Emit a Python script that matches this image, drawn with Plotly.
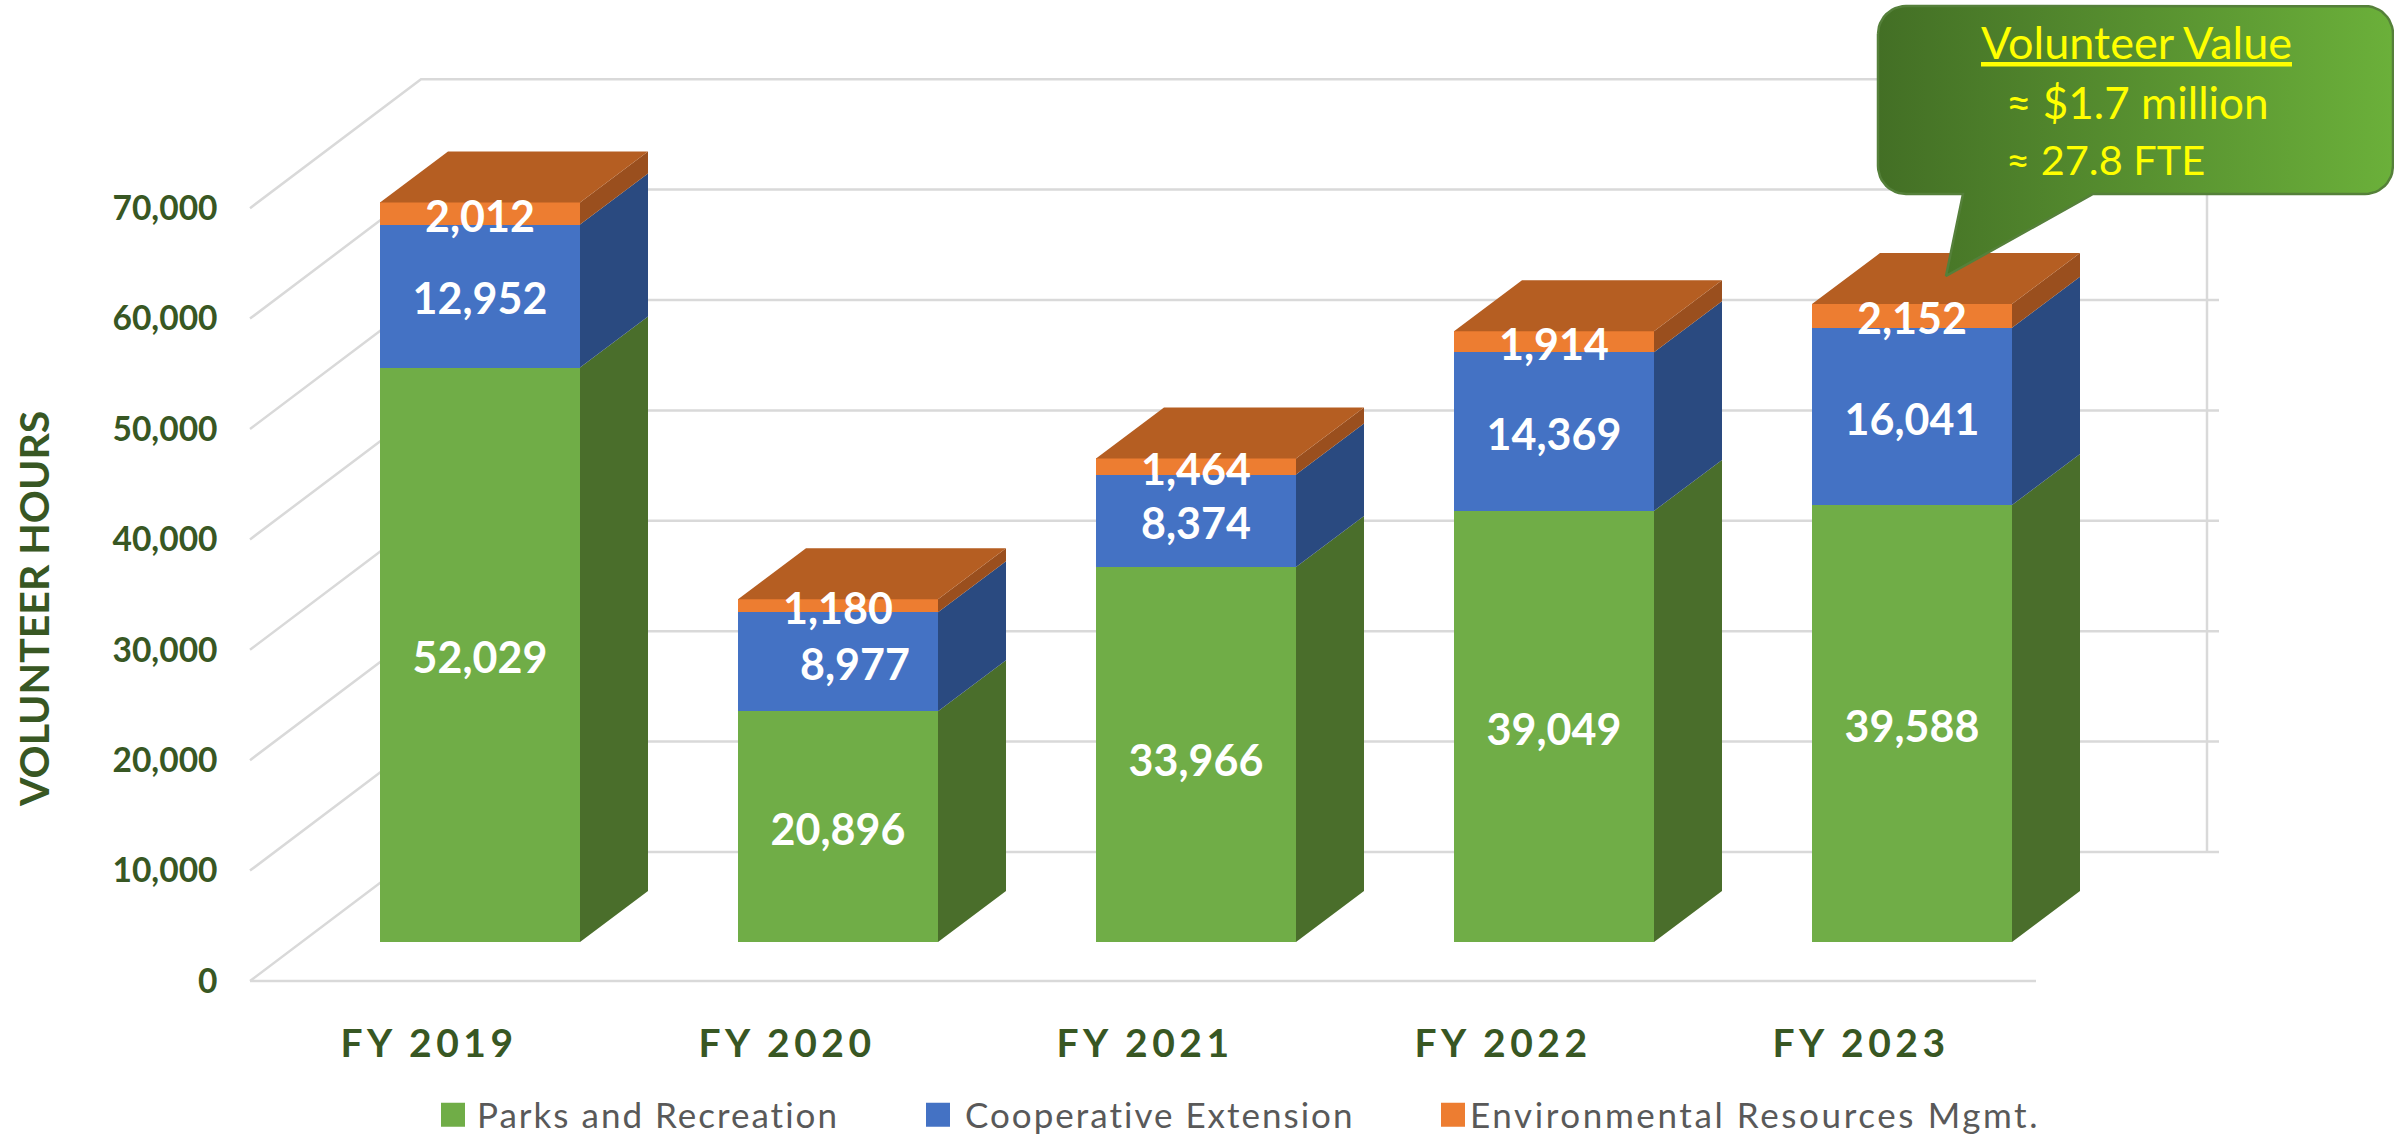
import math
import plotly.graph_objects as go

# ---- data ----
categories = ["FY 2019", "FY 2020", "FY 2021", "FY 2022", "FY 2023"]
parks_recreation = [52029, 20896, 33966, 39049, 39588]
cooperative_extension = [12952, 8977, 8374, 14369, 16041]
environmental_resources = [2012, 1180, 1464, 1914, 2152]
y_ticks = [0, 10000, 20000, 30000, 40000, 50000, 60000, 70000]
series_names = ["Parks and Recreation", "Cooperative Extension", "Environmental Resources Mgmt."]

# ---- styling / geometry ----
W, H = 2394, 1140
S = 0.01104              # px per volunteer hour
STEP = 358.0             # px between categories
X0 = 480.0               # px of first bar centre
FRONT_Y, BAR_Y, BACK_Y = 981.0, 942.0, 852.0   # px baseline of each depth plane
FRONT_X, BACK_X, BACK_R, BACK_TICK = 250.0, 421.0, 2207.0, 2219.0
FLOOR_R = 2036.0
BAR_W = 200.0 / STEP
DX, DY = 68.0 / STEP, 51.0 / S     # bar depth in axis units
TICK_SHIFT = 52.0 / STEP           # category labels sit on the front plane
LABEL_DROP = 7.5 / S               # value labels sit slightly below segment centres
FRONT = ["#70AD47", "#4472C4", "#ED7D31"]
SIDE = ["#4A6E2B", "#2A4A80", "#9A4F1E"]
TOP = "#B55E22"
GRID = "#D9D9D9"
DARK = "#385723"
FONT = "Lato"

def px_x(p):
    return (p - X0) / STEP

stack = [parks_recreation, cooperative_extension, environmental_resources]
fig = go.Figure()

# grid: back wall, side wall, floor (front-plane y axis)
gx, gy = [], []
for v in y_ticks:
    lift = (FRONT_Y - BACK_Y) / S
    gx += [px_x(FRONT_X), px_x(BACK_X), px_x(BACK_TICK), None]
    gy += [v, v + lift, v + lift, None]
gx += [px_x(FRONT_X), px_x(FLOOR_R), None, px_x(BACK_R), px_x(BACK_R)]
gy += [0, 0, None, (FRONT_Y - BACK_Y) / S, (FRONT_Y - BACK_Y) / S + 70000]
fig.add_trace(go.Scatter(x=gx, y=gy, mode="lines", line=dict(color=GRID, width=2.5),
                         hoverinfo="skip", showlegend=False, xaxis="x", yaxis="y"))

# front faces
xs = list(range(len(categories)))
for k, vals in enumerate(stack):
    fig.add_trace(go.Bar(x=xs, y=vals, name=series_names[k], width=BAR_W,
                         marker=dict(color=FRONT[k], line=dict(width=0)),
                         legendwidth=[443, 460, 575][k],
                         hovertemplate="%{y:,}<extra>" + series_names[k] + "</extra>",
                         xaxis="x", yaxis="y2"))

# side faces and top
base = [0] * len(categories)
for k, vals in enumerate(stack):
    px, py = [], []
    for i, v in enumerate(vals):
        r = i + BAR_W / 2
        b, t = base[i], base[i] + v
        px += [r, r + DX, r + DX, r, r, None]
        py += [b, b + DY, t + DY, t, b, None]
        base[i] = t
    fig.add_trace(go.Scatter(x=px, y=py, mode="lines", fill="toself", fillcolor=SIDE[k],
                             line=dict(width=0), hoverinfo="skip", showlegend=False,
                             xaxis="x", yaxis="y2"))
px, py = [], []
for i, t in enumerate(base):
    l, r = i - BAR_W / 2, i + BAR_W / 2
    px += [l, r, r + DX, l + DX, l, None]
    py += [t, t, t + DY, t + DY, t, None]
fig.add_trace(go.Scatter(x=px, y=py, mode="lines", fill="toself", fillcolor=TOP,
                         line=dict(width=0), hoverinfo="skip", showlegend=False,
                         xaxis="x", yaxis="y2"))

# value labels
base = [0] * len(categories)
nudge_x = {(1, 1): 17.0 / STEP}
nudge_y = {(0, 2): -3.0 / S}
for k, vals in enumerate(stack):
    lx = [i + nudge_x.get((k, i), 0) for i in xs]
    ly = [base[i] + v / 2 - LABEL_DROP + nudge_y.get((k, i), 0) for i, v in enumerate(vals)]
    fig.add_trace(go.Scatter(x=lx, y=ly, mode="text", text=[f"{v:,}" for v in vals],
                             textposition="middle center", cliponaxis=False,
                             textfont=dict(family=FONT, size=43, color="white", weight="bold"),
                             hoverinfo="skip", showlegend=False, xaxis="x", yaxis="y2"))
    base = [b + v for b, v in zip(base, vals)]

# callout (pixel overlay axes)
L, R, T, B, RAD = 1878.0, 2393.0, 6.0, 194.0, 28.0
def arc(cx, cy, a0, a1):
    return [(cx + RAD * math.cos(math.radians(a0 + (a1 - a0) * j / 12)),
             cy + RAD * math.sin(math.radians(a0 + (a1 - a0) * j / 12))) for j in range(13)]
outline = (arc(L + RAD, T + RAD, 180, 270) + arc(R - RAD, T + RAD, 270, 360)
           + arc(R - RAD, B - RAD, 0, 90)
           + [(2093.0, B), (1946.0, 276.0), (1963.0, B)]
           + arc(L + RAD, B - RAD, 90, 180))
outline.append(outline[0])
fig.add_trace(go.Scatter(x=[p[0] for p in outline], y=[p[1] for p in outline], mode="lines",
                         fill="toself",
                         fillgradient=dict(type="horizontal",
                                           colorscale=[[0, "#436F25"], [1, "#6BB03A"]]),
                         line=dict(color="#55803A", width=2.5), hoverinfo="skip",
                         showlegend=False, xaxis="x3", yaxis="y3"))
callout_lines = [("<u>Volunteer Value</u>", 2136, 42, 45), ("≈ $1.7 million", 2137, 102, 44),
                 ("≈ 27.8 FTE", 2105, 159, 41.5)]
annotations = [dict(text=t, x=x, y=y, xref="x3", yref="y3", showarrow=False,
                    font=dict(family=FONT, size=s, color="#FFFF00")) for t, x, y, s in callout_lines]
annotations.append(dict(text="<b>VOLUNTEER HOURS</b>", x=33, y=609, xref="x3", yref="y3",
                        showarrow=False, textangle=-90,
                        font=dict(family=FONT, size=41, color=DARK)))

fig.update_layout(
    width=W, height=H, margin=dict(l=0, r=0, t=0, b=0, autoexpand=False), autosize=False,
    plot_bgcolor="white", paper_bgcolor="white", barmode="stack", bargap=0,
    font=dict(family=FONT),
    xaxis=dict(domain=[0, 1], range=[px_x(0), px_x(W)], anchor="free", position=(H - FRONT_Y) / H,
               tickmode="array", tickvals=[i - TICK_SHIFT + 1.0 / STEP for i in xs], ticktext=categories,
               ticklabelstandoff=36, showgrid=False, zeroline=False, showline=False, ticks="",
               tickfont=dict(family=FONT, size=39, color=DARK, weight="bold"), automargin=False),
    yaxis=dict(domain=[0, 1], range=[(FRONT_Y - H) / S, FRONT_Y / S], anchor="free", position=217.5 / W,
               tickmode="array", tickvals=y_ticks, tickformat=",", showgrid=False, zeroline=False,
               showline=False, ticks="", automargin=False,
               tickfont=dict(family=FONT, size=33.5, color=DARK, weight="bold")),
    yaxis2=dict(overlaying="y", range=[(BAR_Y - H) / S, BAR_Y / S], visible=False, anchor="x"),
    xaxis3=dict(overlaying="x", range=[0, W], visible=False, anchor="y3"),
    yaxis3=dict(overlaying="y", range=[H, 0], visible=False, anchor="x3"),
    legend=dict(orientation="h", x=437 / W, xanchor="left", y=(H - 1115) / H, yanchor="middle",
                font=dict(family=FONT, size=35, color="#595959"), traceorder="normal",
                bgcolor="rgba(0,0,0,0)"),
    annotations=annotations,
    showlegend=True,
)

css = ("body{margin:0}"
       ".xtick text{letter-spacing:4.5px}"
       ".legendtext{letter-spacing:2px}"
       ".legend .traces:last-child .legendtext{letter-spacing:2.6px}"
       "g.legendpoints path{transform:translate(13px,0) scale(2)!important}"
       ".legend .traces:first-child g.legendpoints path{transform:translate(16px,0) scale(2)!important}"
       ".legend .traces:last-child g.legendpoints path{transform:translate(23px,0) scale(2)!important}")
post = "var s=document.createElement('style');s.textContent=%r;document.head.appendChild(s);" % css
fig.write_html("out.html", post_script=post, config={"displayModeBar": False})
